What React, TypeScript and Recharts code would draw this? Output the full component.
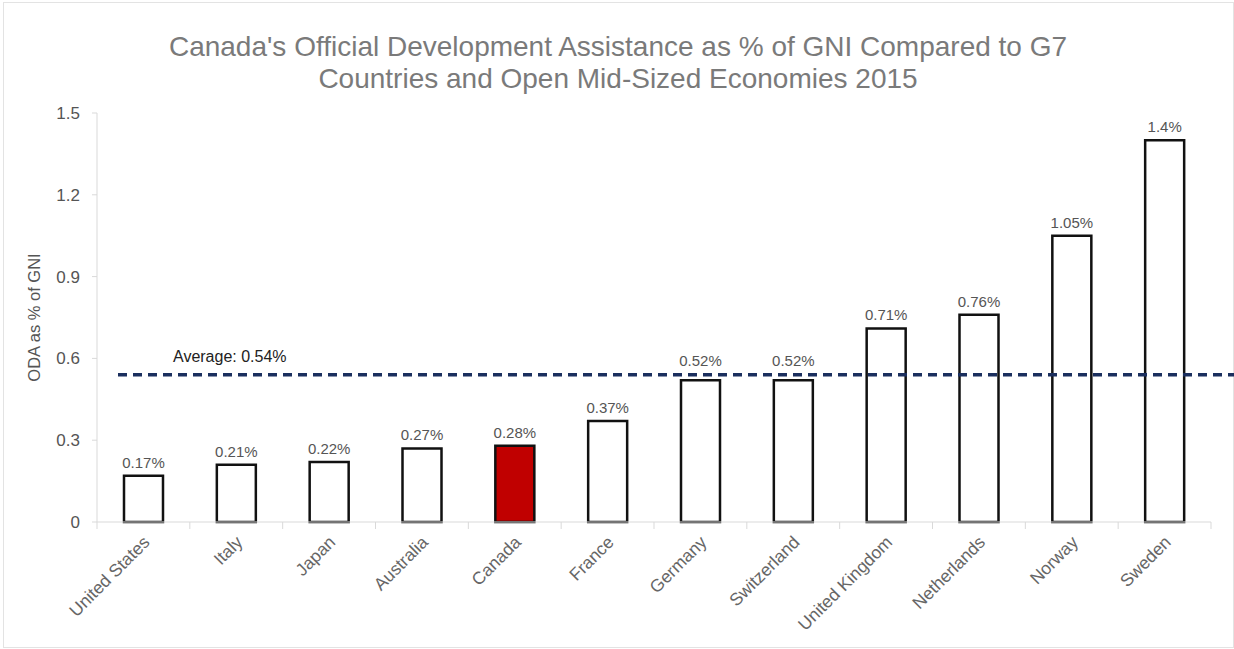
import { BarChart, Bar, XAxis, YAxis, Cell, LabelList, ReferenceLine } from 'recharts';

const countries = [
  'United States',
  'Italy',
  'Japan',
  'Australia',
  'Canada',
  'France',
  'Germany',
  'Switzerland',
  'United Kingdom',
  'Netherlands',
  'Norway',
  'Sweden',
];
const odaShare = [0.17, 0.21, 0.22, 0.27, 0.28, 0.37, 0.52, 0.52, 0.71, 0.76, 1.05, 1.4];
const yTicks = [0, 0.3, 0.6, 0.9, 1.2, 1.5];
const averageShare = 0.54;
const highlighted = 'Canada';

const data = countries.map((country, i) => ({ country, oda: odaShare[i] }));

const FONT = '"Liberation Sans", Arial, Helvetica, sans-serif';
const AXIS_GREY = '#d9d9d9';

function CountryTick(props: any) {
  const { x, y, payload, index } = props;
  const half = payload?.offset ?? 46.4;
  const tx = x + 3;
  const ty = y + 17;
  return (
    <g>
      <line x1={x - half} x2={x - half} y1={y} y2={y + 7} stroke={AXIS_GREY} />
      {index === countries.length - 1 && (
        <line x1={x + half} x2={x + half} y1={y} y2={y + 7} stroke={AXIS_GREY} />
      )}
      <text
        x={tx}
        y={ty}
        dy="0.35em"
        textAnchor="end"
        transform={`rotate(-45 ${tx} ${ty})`}
        fill="#666"
        fontSize={17.5}
        fontFamily={FONT}
      >
        {payload.value}
      </text>
    </g>
  );
}

// value label above each bar; labels that would sit on the average line are lifted above it
function ValueLabel(props: any) {
  const { x, y, width, height, value } = props;
  const base = y + height;
  const avgY = base - (averageShare * height) / value;
  let ty = y - 8;
  if (ty > avgY - 4 && ty < avgY + 18) ty = avgY - 9;
  return (
    <text
      x={x + width / 2}
      y={ty}
      textAnchor="middle"
      fill="#555"
      fontSize={15}
      fontFamily={FONT}
    >
      {`${value}%`}
    </text>
  );
}

function AverageLine(props: any) {
  const { x1, x2, y1 } = props;
  return (
    <g>
      <line
        x1={x1 + 21}
        x2={x2 + 25}
        y1={y1}
        y2={y1}
        stroke="#1b2f5e"
        strokeWidth={3.5}
        strokeDasharray="9 6"
      />
      <text x={x1 + 76} y={y1 - 13} fill="#222" fontSize={16} fontFamily={FONT}>
        {`Average: ${averageShare}%`}
      </text>
    </g>
  );
}

export default function App() {
  return (
    <div
      style={{
        position: 'absolute',
        left: 0,
        top: 0,
        width: 1234,
        height: 649,
        background: '#fff',
        fontFamily: FONT,
        overflow: 'hidden',
      }}
    >
      <div
        style={{
          position: 'absolute',
          left: 3,
          top: 2,
          width: 1229,
          height: 644,
          border: '1px solid #e3e3e3',
        }}
      />
      <div
        style={{
          position: 'absolute',
          left: 0,
          top: 31,
          width: 1236,
          textAlign: 'center',
          fontSize: 28,
          lineHeight: '32px',
          color: '#7a7a7a',
        }}
      >
        Canada's Official Development Assistance as % of GNI Compared to G7
        <br />
        Countries and Open Mid-Sized Economies 2015
      </div>
      <div style={{ position: 'absolute', left: 0, top: 0 }}>
        <BarChart
          width={1234}
          height={649}
          data={data}
          margin={{ top: 113, right: 23, left: 0, bottom: 0 }}
        >
          <XAxis
            dataKey="country"
            interval={0}
            height={127}
            axisLine={{ stroke: AXIS_GREY }}
            tickLine={false}
            tickSize={0}
            tickMargin={0}
            tick={<CountryTick />}
          />
          <YAxis
            width={97}
            domain={[0, 1.5]}
            ticks={yTicks}
            axisLine={{ stroke: AXIS_GREY }}
            tickLine={{ stroke: AXIS_GREY }}
            tickSize={5}
            tickMargin={12}
            tick={{ fill: '#555', fontSize: 17, fontFamily: FONT }}
            label={{
              value: 'ODA as % of GNI',
              angle: -90,
              position: 'insideLeft',
              offset: 34,
              fill: '#555',
              fontSize: 16.5,
              fontFamily: FONT,
              style: { textAnchor: 'middle' },
            }}
          />
          <Bar
            dataKey="oda"
            barSize={39}
            stroke="#111"
            strokeWidth={2.5}
            isAnimationActive={false}
          >
            {data.map((d) => (
              <Cell key={d.country} fill={d.country === highlighted ? '#c00000' : '#fff'} />
            ))}
            <LabelList dataKey="oda" content={<ValueLabel />} />
          </Bar>
          <ReferenceLine y={averageShare} ifOverflow="visible" shape={<AverageLine />} />
        </BarChart>
      </div>
    </div>
  );
}
